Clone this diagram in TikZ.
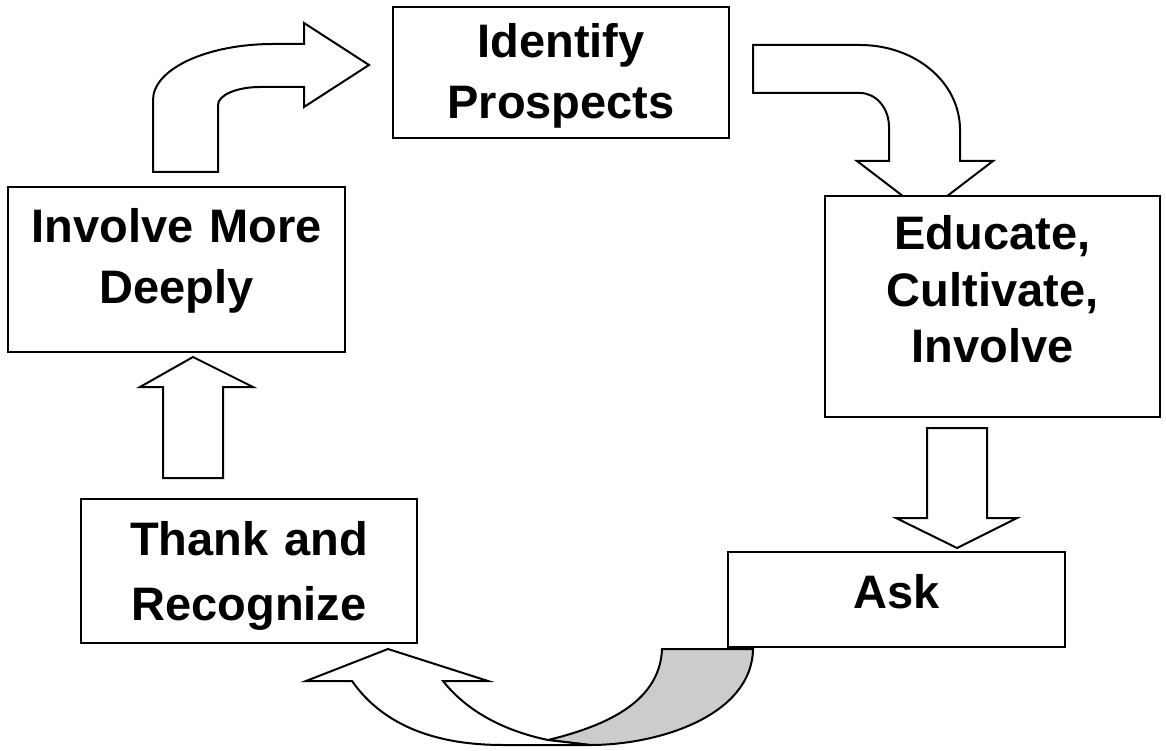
\documentclass[tikz,border=0pt]{standalone}
\usepackage{fontspec}
\setmainfont{Liberation Sans}
\definecolor{backgrey}{RGB}{204,204,204}
\begin{document}
\begin{tikzpicture}[x=1pt,y=-1pt,
  stagebox/.style={draw=black, fill=white, line width=2.3pt, inner sep=0pt, rectangle},
  stagetext/.style={anchor=base, align=center, inner sep=0pt, text width=320pt, font=\bfseries\fontsize{47}{#1}\selectfont},
  stagetext/.default=60,
  blockarrow/.style={draw=black, fill=white, line width=2pt, line join=miter}]
\useasboundingbox (0,0) rectangle (1166,751);

% bent arrow: Involve More Deeply -> Identify Prospects
\draw[blockarrow] (153,172) -- (153,100) .. controls (153,69) and (207,44) .. (273,44)
  -- (304,44) -- (304,23) -- (369,65) -- (304,107) -- (304,87) -- (260,87)
  .. controls (237,87) and (218,95) .. (218,105) -- (218,172) -- cycle;

% bent arrow: Identify Prospects -> Educate
\draw[blockarrow] (753,45) -- (860,45) .. controls (915,45) and (960,82) .. (960,130)
  -- (960,161) -- (993,161) -- (925,213) -- (857,161) -- (889,161) -- (889,127)
  .. controls (889,108) and (876,93) .. (860,93) -- (753,93) -- cycle;

% straight arrow: Educate -> Ask
\draw[blockarrow] (927,428) -- (987,428) -- (987,518) -- (1017,518) -- (957,548)
  -- (896,518) -- (927,518) -- cycle;

% curved arrow: Ask -> Thank and Recognize
\draw[blockarrow, fill=backgrey] (548,740) .. controls (610,725) and (660,700) .. (662,649)
  -- (753,649) .. controls (752,715) and (660,745) .. (590,745) -- cycle;
\draw[blockarrow] (306,681) -- (388,649) -- (488,681) -- (443,681)
  .. controls (470,715) and (510,732) .. (548,740) -- (590,745) -- (503,745)
  .. controls (440,745) and (385,728) .. (352,681) -- cycle;

% straight arrow: Thank and Recognize -> Involve More Deeply
\draw[blockarrow] (163,478) -- (163,387) -- (140,387) -- (193,357) -- (253,387)
  -- (223,387) -- (223,478) -- cycle;

% boxes
\node[stagebox, minimum width=336pt, minimum height=131pt] (identify) at (561,72.5) {};
\node[stagebox, minimum width=337pt, minimum height=165pt] (involve) at (176.5,269.5) {};
\node[stagebox, minimum width=335pt, minimum height=221pt] (educate) at (992.5,306.5) {};
\node[stagebox, minimum width=337pt, minimum height=95pt] (ask) at (896.5,599.5) {};
\node[stagebox, minimum width=336pt, minimum height=144pt] (thank) at (249,571) {};

% texts
\node[stagetext=61] (identifyT) at (561,58) {Identify\\Prospects};
\node[stagetext=60] (involveT) at (176.5,243) {Involve More\\Deeply};
\node[stagetext=56] (educateT) at (992.5,250) {Educate,\\Cultivate,\\Involve};
\node[stagetext=60] (askT) at (896.5,608) {Ask};
\node[stagetext=65] (thankT) at (249,555) {Thank and\\Recognize};
\end{tikzpicture}
\end{document}
